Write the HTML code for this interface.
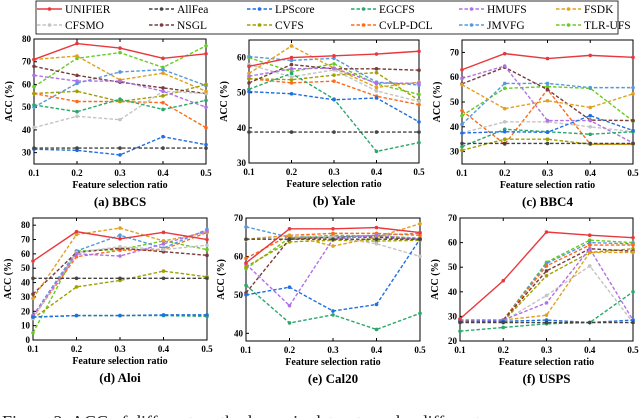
<!DOCTYPE html>
<html><head><meta charset="utf-8"><style>
body{margin:0;background:#fff;overflow:hidden;}
svg{display:block;font-family:"Liberation Serif",serif;}
</style></head><body>
<svg id="fig" width="640" height="418" viewBox="0 0 640 418" xmlns="http://www.w3.org/2000/svg"></svg>
<script>
const methods=["UNIFIER","AllFea","LPScore","EGCFS","HMUFS","FSDK","CFSMO","NSGL","CVFS","CvLP-DCL","JMVFG","TLR-UFS"];
const colors=["#e8383d","#444444","#1f6fe0","#2aa86a","#b070e8","#e0a020","#c4c4c4","#7a3b3b","#a0a000","#ff6a1a","#5599dd","#66cc22"];
const ratios=[0.1,0.2,0.3,0.4,0.5];
const xTicks=["0.1","0.2","0.3","0.4","0.5"];
const bbcs=[[71,78,76,71.5,73.5],[32,32,32,32,32],[31.5,31,29,37,33.5],[51,48,53.5,49,53],[64,61.5,61.5,57,50],[71,72.5,62,65,57],[41,46,44.5,57,56],[68,64,61,58.5,56],[56,57,52.5,55,60],[56,52.5,52.5,52,41],[50,60.5,65.5,66.5,59.5],[59,71.5,74,67.5,77]];
const yale=[[57.5,60,60.5,61,61.8],[38.8,38.8,38.8,38.8,38.8],[50.3,49.7,48,48.5,41.7],[51,55.5,48.2,33.3,35.8],[54.7,56.8,57,52.7,52.7],[55.5,63.3,57,51.5,53],[58,54.5,56.5,50.5,47.5],[52.8,58,56.8,56.8,56.4],[54,53.7,55,55.7,47.8],[54,52.8,53.3,49,46.6],[60.3,59.2,59.8,53,52.2],[60,56,58.2,52.5,49.5]];
const bbc4=[[63,69.5,67.5,68.8,68],[33.3,33.3,33.3,33.3,33.3],[37.5,38,37.8,44.5,38.5],[32,39,38,37,38],[59.5,64.5,42.5,42.5,33.5],[57,47.3,50.5,47.8,53.3],[37.5,42,42,40,38],[57.3,64,55,42.7,42.5],[30.5,35,35,33,33],[46.5,33,55,33,33],[41,57.5,57.5,55.8,55.8],[44.5,55.5,56.2,55.5,42.3]];
const aloi=[[55,75.5,70.5,75,70],[43,43,43,43,43],[16,17,17,17.5,17.5],[16,17,17,17,16.5],[17,60,58.5,67,76],[29,73.5,78,69,75],[15,61,65,63,66],[32,61,64,61.5,59],[15,37,41.5,48,44],[16,58,62.5,63,75],[17,62,73,64,77],[5,62,63,69,63]];
const cal20=[[58.3,67.2,67.2,67.5,66.2],[64.5,64.5,64.5,64.5,64.5],[50,52,45.8,47.5,64.5],[52.5,42.7,44.8,41,45.2],[58,47.2,64.5,65.5,64.5],[64.5,65.5,62.7,65,68.5],[64.3,65.5,65,63.3,60],[50.5,64.5,65,65,64.5],[57.3,63.8,64.2,64,64.2],[59.5,65.5,66,66,65.5],[67.7,65,65,65.5,66],[56.8,64.8,65.5,65.3,64.8]];
const usps=[[29,44.5,64.3,63,62],[27.5,27.5,27.5,27.5,27.5],[28,28,28.5,27.5,28.5],[24,25.5,27,27.5,40],[28,28.5,35.5,57.5,28.5],[28,28.5,30.5,56,56],[27.5,28,38.5,50.5,27.5],[28,28.5,48.5,57.5,56.5],[28,28,46.5,56,57.5],[28.5,28.5,50.5,59,59],[28.5,28.5,51.5,60,59.5],[28.5,28.5,52,61,60]];
const titles=["(a) BBCS","(b) Yale","(c) BBC4","(d) Aloi","(e) Cal20","(f) USPS"];
const yTicksA=[30,40,50,60,70,80],yTicksB=[30,40,50,60],yTicksC=[30,40,50,60,70],yTicksD=[0,10,20,30,40,50,60,70,80],yTicksE=[40,50,60,70],yTicksF=[20,30,40,50,60,70];
const NS="http://www.w3.org/2000/svg";
const svg=document.getElementById('fig');
function mk(t,a,p){const e=document.createElementNS(NS,t);for(const k in a)e.setAttribute(k,a[k]);(p||svg).appendChild(e);return e;}
const panels=[
 {d:bbcs,yt:yTicksA,x0:34,x1:206,y0:39,y1:164,min:25,max:80},
 {d:yale,yt:yTicksB,x0:249,x1:419,y0:40,y1:163,min:30,max:65},
 {d:bbc4,yt:yTicksC,x0:462,x1:633,y0:40,y1:164,min:25,max:75},
 {d:aloi,yt:yTicksD,x0:33,x1:207,y0:218,y1:340,min:0,max:85},
 {d:cal20,yt:yTicksE,x0:246,x1:420,y0:218,y1:341,min:38,max:70},
 {d:usps,yt:yTicksF,x0:460,x1:633,y0:218,y1:341,min:20,max:70}];
panels.forEach((p,pi)=>{
 const g=mk('g',{});
 
 
 const X=v=>p.x0+(v-0.1)/0.4*(p.x1-p.x0);
 const Y=v=>p.y1-(v-p.min)/(p.max-p.min)*(p.y1-p.y0);
 const box=mk('rect',{x:p.x0,y:p.y0,width:p.x1-p.x0,height:p.y1-p.y0,fill:'none',stroke:'#000','stroke-width':1},g);
 
 p.yt.forEach(t=>{const y=Y(t);mk('line',{x1:p.x0,x2:p.x0+3,y1:y,y2:y,stroke:'#000'},g);
  const tx=mk('text',{x:p.x0-3,y:y+3,'text-anchor':'end','font-size':9,'font-weight':'bold'},g);tx.textContent=t;
  });
 ratios.forEach((r,i)=>{const x=X(r);mk('line',{x1:x,x2:x,y1:p.y1,y2:p.y1-3,stroke:'#000'},g);mk('line',{x1:x,x2:x,y1:p.y0,y2:p.y0+3,stroke:'#000'},g);
  const tx=mk('text',{x:x,y:p.y1+12,'text-anchor':'middle','font-size':9,'font-weight':'bold'},g);tx.textContent=xTicks[i];
  });
 const cx=(p.x0+p.x1)/2;
 const xl=mk('text',{x:cx,y:p.y1+24,'text-anchor':'middle','font-size':10,'font-weight':'bold'},g);xl.textContent='Feature selection ratio';
 
 const tt=mk('text',{x:cx,y:p.y1+42,'text-anchor':'middle','font-size':13,'font-weight':'bold'},g);tt.textContent=titles[pi];
 
 const yl=mk('text',{x:0,y:0,'text-anchor':'middle','font-size':10,'font-weight':'bold',transform:`translate(${p.x0-22},${(p.y0+p.y1)/2}) rotate(-90)`},g);yl.textContent='ACC (%)';
 
 for(let m=p.d.length-1;m>=0;m--){
  const vals=p.d[m];
  const pts=vals.map((v,i)=>X(ratios[i])+','+Y(v)).join(' ');
  const pl=mk('polyline',{points:pts,fill:'none',stroke:colors[m],'stroke-width':1.4,'stroke-dasharray':m===0?'':'3.5,2'},g);
  
  vals.forEach((v,i)=>{const c=mk('circle',{cx:X(ratios[i]),cy:Y(v),r:1.8,fill:colors[m]},g);
   });
 }
});
const lg=mk('g',{});

mk('rect',{x:36,y:1,width:582,height:33,fill:'#fff',stroke:'#000','stroke-width':0.8},lg);
const lx=[37,149,247,351,459,556];
methods.forEach((m,i)=>{const col=i%6,row=Math.floor(i/6);const y=row?25:9;const x=lx[col];
 const e=mk('g',{},lg);
 
 mk('line',{x1:x,x2:x+25,y1:y,y2:y,stroke:colors[i],'stroke-width':1.5,'stroke-dasharray':i===0?'':'3.5,2'},e);
 mk('circle',{cx:x+12.5,cy:y,r:1.8,fill:colors[i]},e);
 const t=mk('text',{x:x+28,y:y+4,'font-size':11.5},e);t.textContent=m;});
const cap=mk('text',{x:2,y:428,'font-size':18,fill:'#222'});
cap.textContent='Figure 2: ACC of different methods on six datasets under different';

</script>
</body></html>
